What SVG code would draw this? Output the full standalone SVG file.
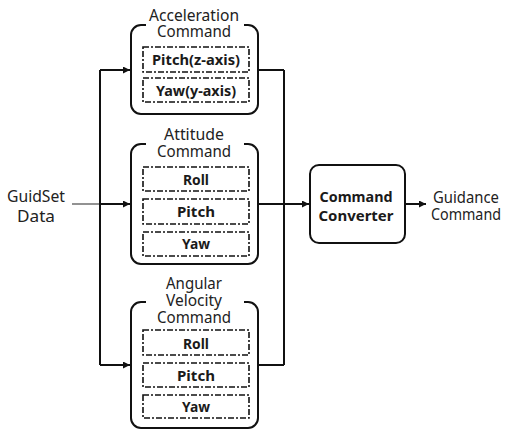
<svg xmlns="http://www.w3.org/2000/svg" width="508" height="430" viewBox="0 0 508 430">
  <style>
    text { font-family: "Noto Sans", "Open Sans", "DejaVu Sans", sans-serif; font-size: 15.5px; fill: #222; text-anchor: middle; }
    .item { font-weight: bold; font-size: 15px; fill: #1a1a1a; }
    .frame { fill: none; stroke: #111; stroke-width: 2; }
    .slot { fill: none; stroke: #111; stroke-width: 1.6; stroke-dasharray: 6 2 2 2; }
    .wire { fill: none; stroke: #111; stroke-width: 2; }
    .feed { fill: none; stroke: #777; stroke-width: 1.6; }
    .box { fill: #fff; stroke: #111; stroke-width: 2; }
  </style>
  <defs>
    <marker id="arrow" viewBox="0 0 10 10" refX="10" refY="5" markerWidth="8" markerHeight="7" markerUnits="userSpaceOnUse" orient="auto">
      <path d="M0,0 L10,5 L0,10 z" fill="#111"/>
    </marker>
  </defs>

  <!-- connectors -->
  <g id="connectors">
    <line class="feed" x1="72" y1="204" x2="100" y2="204"/>
    <line class="wire" x1="100" y1="70" x2="100" y2="365"/>
    <line class="wire" x1="100" y1="70" x2="130" y2="70" marker-end="url(#arrow)"/>
    <line class="wire" x1="100" y1="204" x2="130" y2="204" marker-end="url(#arrow)"/>
    <line class="wire" x1="100" y1="365" x2="130" y2="365" marker-end="url(#arrow)"/>
    <line class="wire" x1="258" y1="70" x2="284" y2="70"/>
    <line class="wire" x1="258" y1="204" x2="284" y2="204"/>
    <line class="wire" x1="258" y1="365" x2="284" y2="365"/>
    <line class="wire" x1="284" y1="70" x2="284" y2="365"/>
    <line class="wire" x1="284" y1="204" x2="309" y2="204" marker-end="url(#arrow)"/>
    <line class="wire" x1="405" y1="204" x2="426" y2="204" marker-end="url(#arrow)"/>
  </g>

  <!-- input label -->
  <g id="input">
    <text x="36" y="202" textLength="58" lengthAdjust="spacingAndGlyphs">GuidSet</text>
    <text x="36" y="222" textLength="38" lengthAdjust="spacingAndGlyphs">Data</text>
  </g>

  <!-- acceleration command group -->
  <g id="acceleration">
    <path class="frame" d="M146,25 H141 A10,10 0 0 0 131,35 V104 A10,10 0 0 0 141,114 H248 A10,10 0 0 0 258,104 V35 A10,10 0 0 0 248,25 H244"/>
    <text x="194" y="21" textLength="90" lengthAdjust="spacingAndGlyphs">Acceleration</text>
    <text x="194" y="37" textLength="74" lengthAdjust="spacingAndGlyphs">Command</text>
    <rect class="slot" x="143" y="47" width="106" height="25"/>
    <text class="item" x="196" y="65" textLength="88" lengthAdjust="spacingAndGlyphs">Pitch(z-axis)</text>
    <rect class="slot" x="143" y="78" width="106" height="24"/>
    <text class="item" x="196" y="96" textLength="80" lengthAdjust="spacingAndGlyphs">Yaw(y-axis)</text>
  </g>

  <!-- attitude command group -->
  <g id="attitude">
    <path class="frame" d="M146,144 H141 A10,10 0 0 0 131,154 V254 A10,10 0 0 0 141,264 H248 A10,10 0 0 0 258,254 V154 A10,10 0 0 0 248,144 H244"/>
    <text x="194" y="140" textLength="60" lengthAdjust="spacingAndGlyphs">Attitude</text>
    <text x="194" y="157" textLength="74" lengthAdjust="spacingAndGlyphs">Command</text>
    <rect class="slot" x="143" y="167" width="106" height="24"/>
    <text class="item" x="196" y="185" textLength="26" lengthAdjust="spacingAndGlyphs">Roll</text>
    <rect class="slot" x="143" y="199" width="106" height="25"/>
    <text class="item" x="196" y="217" textLength="38" lengthAdjust="spacingAndGlyphs">Pitch</text>
    <rect class="slot" x="143" y="232" width="106" height="24"/>
    <text class="item" x="196" y="249" textLength="28" lengthAdjust="spacingAndGlyphs">Yaw</text>
  </g>

  <!-- angular velocity command group -->
  <g id="angular-velocity">
    <path class="frame" d="M146,302 H141 A10,10 0 0 0 131,312 V418 A10,10 0 0 0 141,428 H248 A10,10 0 0 0 258,418 V312 A10,10 0 0 0 248,302 H244"/>
    <text x="194" y="289" textLength="56" lengthAdjust="spacingAndGlyphs">Angular</text>
    <text x="194" y="306" textLength="56" lengthAdjust="spacingAndGlyphs">Velocity</text>
    <text x="194" y="323" textLength="74" lengthAdjust="spacingAndGlyphs">Command</text>
    <rect class="slot" x="143" y="330" width="106" height="25"/>
    <text class="item" x="196" y="349" textLength="26" lengthAdjust="spacingAndGlyphs">Roll</text>
    <rect class="slot" x="143" y="363" width="106" height="24"/>
    <text class="item" x="196" y="381" textLength="38" lengthAdjust="spacingAndGlyphs">Pitch</text>
    <rect class="slot" x="143" y="395" width="106" height="23"/>
    <text class="item" x="196" y="412" textLength="28" lengthAdjust="spacingAndGlyphs">Yaw</text>
  </g>

  <!-- converter -->
  <g id="converter">
    <rect class="box" x="310" y="165" width="95" height="78" rx="9"/>
    <text class="item" x="356" y="202" textLength="73" lengthAdjust="spacingAndGlyphs">Command</text>
    <text class="item" x="356" y="221" textLength="75" lengthAdjust="spacingAndGlyphs">Converter</text>
  </g>

  <!-- output label -->
  <g id="output">
    <text x="466" y="203" textLength="66" lengthAdjust="spacingAndGlyphs">Guidance</text>
    <text x="466" y="220" textLength="70" lengthAdjust="spacingAndGlyphs">Command</text>
  </g>
</svg>
